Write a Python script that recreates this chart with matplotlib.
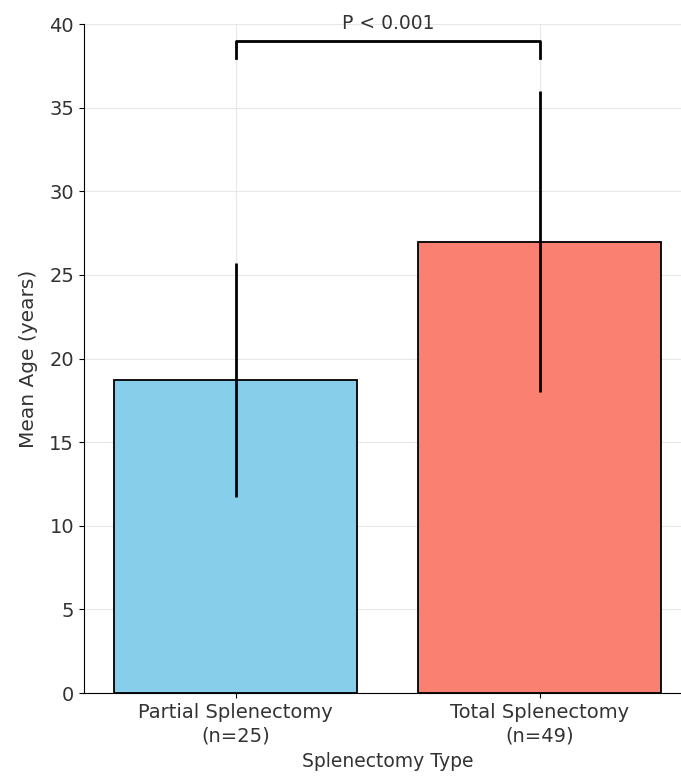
import matplotlib.pyplot as plt

# dados
grupos = ['Partial Splenectomy\n(n=25)', 'Total Splenectomy\n(n=49)']
medias = [18.7, 27.0]
desvios = [7.0, 9.0]
cores = ['skyblue', 'salmon']
p_texto = 'P < 0.001'

fig = plt.figure(figsize=(6.81, 7.8), dpi=100)
ax = fig.add_axes([0.123, 0.1115, 0.893, 0.8575])

x = list(range(len(grupos)))
ax.bar(x, medias, yerr=desvios, color=cores, edgecolor='black', linewidth=1.3, width=0.8,
       error_kw=dict(ecolor='black', elinewidth=2, capsize=0), zorder=2)

# barra de significancia
h0, h1 = 38, 39
ax.plot([x[0], x[0], x[1], x[1]], [h0, h1, h1, h0], color='black', lw=2, zorder=3)
ax.text((x[0] + x[1]) / 2, h1 + 0.45, p_texto, ha='center', va='bottom', fontsize=13.5, color='#333333')

ax.set_xlim(-0.5, 1.5)
ax.set_ylim(0, 40)
ax.set_xticks(x)
ax.set_xticklabels(grupos, fontsize=14, color='#333333', linespacing=1.3)
ax.tick_params(axis='y', labelsize=14, labelcolor='#333333')
ax.set_xlabel('Splenectomy Type', fontsize=13.5, color='#333333', labelpad=5)
ax.set_ylabel('Mean Age (years)', fontsize=14.5, color='#333333', labelpad=8)
ax.grid(True, color='#dddddd', linewidth=0.8, alpha=0.7, zorder=0)
ax.set_axisbelow(True)
ax.spines['top'].set_visible(False)
ax.spines['right'].set_visible(False)

plt.savefig('out.png', dpi=100)
